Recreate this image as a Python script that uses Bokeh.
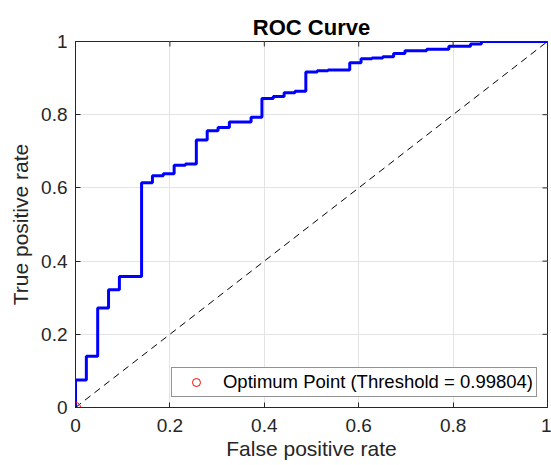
import math
from bokeh.plotting import figure
from bokeh.models import Range1d, FixedTicker, Legend, LegendItem
from bokeh.embed import file_html
from bokeh.resources import INLINE

# ROC step curve: false positive rate where each step occurs, true positive rate after it
fpr_steps = [0.0, 0.0, 0.023, 0.047, 0.070, 0.093, 0.140, 0.163, 0.186, 0.209, 0.233,
             0.256, 0.279, 0.302, 0.326, 0.372, 0.395, 0.419, 0.442, 0.465, 0.488,
             0.512, 0.535, 0.581, 0.605, 0.628, 0.651, 0.674, 0.698, 0.744, 0.791,
             0.837, 0.860, 1.0]
tpr_steps = [0.0, 0.075, 0.140, 0.272, 0.322, 0.358, 0.614, 0.633, 0.639, 0.662, 0.665,
             0.731, 0.756, 0.765, 0.780, 0.793, 0.844, 0.850, 0.860, 0.864, 0.917,
             0.920, 0.922, 0.942, 0.953, 0.955, 0.958, 0.967, 0.975, 0.979, 0.987,
             0.993, 1.000, 1.0]

diag_x = [0.0, 1.0]
diag_y = [0.0, 1.0]
opt_x = [0.0]
opt_y = [0.0]

tick_values = [0.0, 0.2, 0.4, 0.6, 0.8, 1.0]
tick_labels = ["0", "0.2", "0.4", "0.6", "0.8", "1"]

title_text = "ROC Curve"
x_label = "False positive rate"
y_label = "True positive rate"
legend_label = "Optimum Point (Threshold = 0.99804)"

FONT = "Liberation Sans"
AX = "#262626"

p = figure(width=551, height=465, output_backend="svg", toolbar_location=None,
           x_range=Range1d(0, 1), y_range=Range1d(0, 1), title=title_text,
           min_border_left=75, min_border_right=4, min_border_top=41,
           min_border_bottom=58)

p.title.align = "center"
p.title.text_font = FONT
p.title.text_font_size = "22px"
p.title.text_font_style = "bold"
p.title.text_color = "#000000"
p.title.standoff = 4

overrides = {v: s for v, s in zip(tick_values, tick_labels)}

for ax in (p.xaxis[0], p.yaxis[0]):
    ax.ticker = FixedTicker(ticks=tick_values)
    ax.major_tick_in = 5
    ax.major_tick_out = 0
    ax.minor_tick_line_color = None
    ax.axis_line_color = AX
    ax.major_tick_line_color = AX
    ax.axis_line_width = 1
    ax.major_label_overrides = overrides
    ax.major_label_text_font = FONT
    ax.major_label_text_font_size = "19px"
    ax.major_label_text_color = AX
    ax.axis_label_text_font = FONT
    ax.axis_label_text_font_size = "21px"
    ax.axis_label_text_font_style = "normal"
    ax.axis_label_text_color = AX

p.xaxis.axis_label = x_label
p.yaxis.axis_label = y_label
p.xaxis.major_label_standoff = 11
p.yaxis.major_label_standoff = 8
p.xaxis.axis_label_standoff = 2
p.yaxis.axis_label_standoff = 6

p.grid.ticker = FixedTicker(ticks=tick_values)
p.grid.grid_line_color = "#e4e4e4"
p.outline_line_color = AX
p.outline_line_width = 1

p.step(fpr_steps, tpr_steps, mode="after", line_color="#0000ff", line_width=3)
p.line(diag_x, diag_y, line_color="#000000", line_width=1, line_dash="7 5")
opt = p.scatter(opt_x, opt_y, marker="circle", size=10, fill_color=None,
                line_color="#ff0000", line_width=1)

# inward tick marks on the top and right box edges (outer half is clipped by the frame)
p.scatter(tick_values, [1.0] * len(tick_values), marker="dash", size=10,
          angle=math.pi / 2, line_color=AX, line_width=1)
p.scatter([1.0] * len(tick_values), tick_values, marker="dash", size=10,
          line_color=AX, line_width=1)

legend = Legend(items=[LegendItem(label=legend_label, renderers=[opt])],
                location="bottom_right")
legend.margin = 10
legend.padding = 3
legend.glyph_width = 42
legend.glyph_height = 20
legend.label_standoff = 6
legend.label_text_font = FONT
legend.label_text_font_size = "18.5px"
legend.label_text_color = "#000000"
legend.border_line_color = AX
legend.border_line_width = 1
legend.background_fill_color = "#ffffff"
legend.background_fill_alpha = 1.0
p.add_layout(legend)

p.background_fill_color = "#ffffff"
p.border_fill_color = "#ffffff"

open("out.html", "w").write(file_html(p, INLINE))
